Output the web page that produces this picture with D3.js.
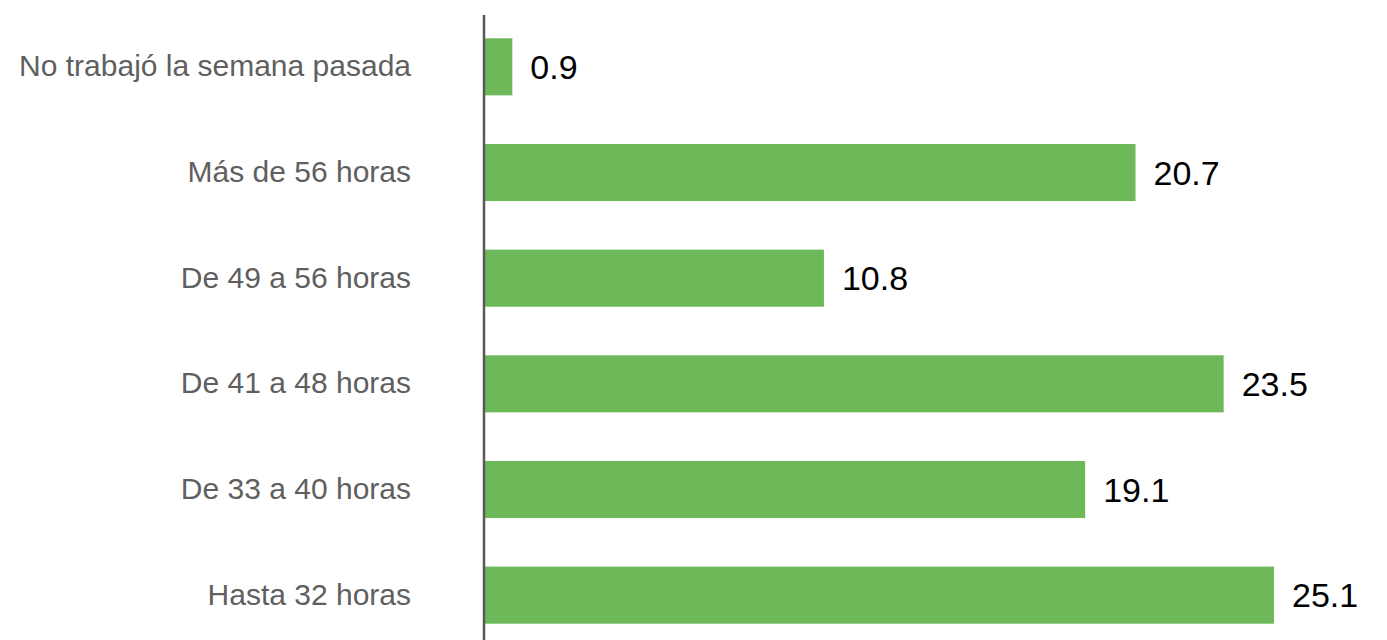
<!DOCTYPE html>
<html>
<head>
<meta charset="utf-8">
<script src="https://cdn.jsdelivr.net/npm/d3@7"></script>
<style>
  body { margin: 0; background: #fff; }
  svg { display: block; }
</style>
</head>
<body>
<div id="chart"></div>
<script>
// data
var categories = ['No trabajó la semana pasada', 'Más de 56 horas', 'De 49 a 56 horas',
                  'De 41 a 48 horas', 'De 33 a 40 horas', 'Hasta 32 horas'];
var values = [0.9, 20.7, 10.8, 23.5, 19.1, 25.1];

var widthCont = 1387,
    heightCont = 640,
    axisX = 484;

var svg = d3.select('#chart').append('svg')
  .attr('width', widthCont)
  .attr('height', heightCont);

var x = d3.scaleLinear()
  .domain([0, 25.1])
  .range([axisX, axisX + 790]);

var y = d3.scaleBand()
  .domain(categories)
  .range([14, 648])
  .paddingInner(0.46)
  .paddingOuter(0.23);

var data = categories.map(function(c, i){ return {cat: c, val: values[i]}; });

// bars
svg.selectAll('rect.bar')
  .data(data)
  .enter().append('rect')
  .attr('class', 'bar')
  .attr('x', x(0))
  .attr('y', function(d){ return y(d.cat); })
  .attr('width', function(d){ return x(d.val) - x(0); })
  .attr('height', y.bandwidth())
  .attr('fill', '#6db858');

// value labels
svg.selectAll('text.val')
  .data(data)
  .enter().append('text')
  .attr('class', 'val')
  .attr('x', function(d){ return x(d.val) + 18; })
  .attr('y', function(d){ return y(d.cat) + y.bandwidth() / 2; })
  .attr('dy', '0.36em')
  .style('font-family', 'Liberation Sans, Arial, sans-serif')
  .style('font-size', '34px')
  .style('fill', '#000')
  .text(function(d){ return d3.format('.1f')(d.val); });

// category axis
var yAxis = d3.axisLeft(y).tickSize(0).tickPadding(73);

var g = svg.append('g')
  .attr('transform', 'translate(' + axisX + ',0)')
  .call(yAxis);

g.select('.domain').remove();
g.selectAll('text')
  .style('font-family', 'Liberation Sans, Arial, sans-serif')
  .style('font-size', '30px')
  .style('fill', '#5f5f5f');

// vertical axis line
svg.append('line')
  .attr('x1', axisX).attr('x2', axisX)
  .attr('y1', 15).attr('y2', heightCont)
  .attr('stroke', '#595959')
  .attr('stroke-width', 2.5);
</script>
</body>
</html>
